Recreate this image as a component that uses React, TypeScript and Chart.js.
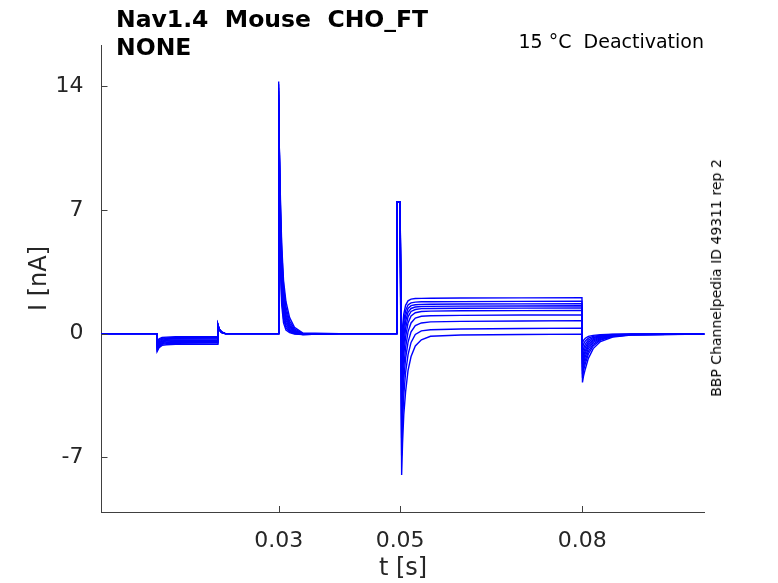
import { useEffect, useRef } from "react";
import { Chart, registerables } from "chart.js";

Chart.register(...registerables);

// sample times (s), shared by every sweep
const TIME = [
  0.00082, 0.00999, 0.01, 0.0103, 0.0108, 0.0115, 0.013, 0.0199,
  0.02, 0.0202, 0.0206, 0.0212, 0.0299,
  0.03, 0.03015, 0.0303, 0.0305, 0.0308, 0.0312, 0.0318, 0.0326, 0.034, 0.04,
  0.04945, 0.0495, 0.04998,
  0.05025, 0.0504, 0.0506, 0.0509, 0.0513, 0.0518, 0.0525, 0.0535, 0.055, 0.06, 0.07, 0.07995,
  0.08003, 0.0802, 0.0805, 0.081, 0.0818, 0.083, 0.085, 0.088, 0.1001,
];

// current (nA) per sweep
const SWEEP_1 = [0, 0, -0.45, -0.3, -0.22, -0.2, -0.18, -0.17, 0.42, 0.2, 0.06, 0, 0, 14.25, 7.0, 3.4, 1.6, 0.6, 0.2, 0.05, -0.03, -0.05, 0, 0, 7.45, 7.45, -0.5, 0.3, 1.1, 1.6, 1.85, 1.95, 1.98, 1.99, 2.0, 2.01, 2.02, 2.03, -2.76, -2.4, -2.0, -1.4, -0.85, -0.45, -0.2, -0.08, -0.03];
const SWEEP_2 = [0, 0, -0.52, -0.36, -0.27, -0.24, -0.22, -0.21, 0.44, 0.21, 0.06, 0, 0, 14.1, 7.6, 4.0, 2.0, 0.85, 0.32, 0.1, 0, -0.05, 0, 0, 7.45, 7.45, -1.1, -0.2, 0.7, 1.3, 1.62, 1.74, 1.78, 1.8, 1.8, 1.81, 1.82, 1.83, -2.5, -2.1, -1.7, -1.15, -0.7, -0.37, -0.17, -0.07, -0.03];
const SWEEP_3 = [0, 0, -0.58, -0.42, -0.32, -0.28, -0.26, -0.25, 0.45, 0.22, 0.07, 0, 0, 13.9, 8.1, 4.6, 2.4, 1.1, 0.45, 0.15, 0.02, -0.05, 0, 0, 7.45, 7.45, -1.8, -0.7, 0.3, 1.0, 1.42, 1.58, 1.63, 1.65, 1.66, 1.67, 1.68, 1.69, -2.3, -1.9, -1.5, -1.0, -0.6, -0.32, -0.15, -0.06, -0.03];
const SWEEP_4 = [0, 0, -0.64, -0.48, -0.37, -0.33, -0.31, -0.3, 0.46, 0.23, 0.07, 0, 0, 13.7, 8.5, 5.1, 2.8, 1.35, 0.6, 0.22, 0.05, -0.04, 0, 0, 7.45, 7.45, -2.5, -1.2, -0.2, 0.7, 1.2, 1.42, 1.5, 1.53, 1.54, 1.55, 1.56, 1.57, -2.1, -1.7, -1.3, -0.85, -0.5, -0.27, -0.13, -0.06, -0.03];
const SWEEP_5 = [0, 0, -0.7, -0.53, -0.42, -0.38, -0.36, -0.35, 0.47, 0.24, 0.08, 0, 0, 13.5, 8.8, 5.6, 3.2, 1.6, 0.75, 0.3, 0.08, -0.04, 0, 0, 7.45, 7.45, -3.2, -1.8, -0.7, 0.3, 0.95, 1.25, 1.36, 1.41, 1.42, 1.43, 1.44, 1.45, -1.9, -1.5, -1.1, -0.72, -0.42, -0.23, -0.11, -0.05, -0.02];
const SWEEP_6 = [0, 0, -0.76, -0.58, -0.46, -0.42, -0.4, -0.39, 0.48, 0.24, 0.08, 0, 0, 13.3, 9.0, 6.0, 3.6, 1.85, 0.9, 0.38, 0.12, -0.03, 0, 0, 7.45, 7.45, -4.0, -2.4, -1.2, -0.2, 0.6, 1.0, 1.18, 1.25, 1.27, 1.29, 1.3, 1.31, -1.7, -1.3, -0.95, -0.6, -0.35, -0.19, -0.1, -0.05, -0.02];
const SWEEP_7 = [0, 0, -0.82, -0.63, -0.51, -0.47, -0.45, -0.44, 0.49, 0.25, 0.08, 0, 0, 13.1, 9.2, 6.4, 4.0, 2.1, 1.05, 0.46, 0.16, -0.02, 0, 0, 7.45, 7.45, -4.9, -3.2, -1.9, -0.8, 0.1, 0.6, 0.88, 0.98, 1.01, 1.03, 1.05, 1.06, -1.45, -1.1, -0.78, -0.48, -0.28, -0.15, -0.08, -0.04, -0.02];
const SWEEP_8 = [0, 0, -0.88, -0.69, -0.56, -0.52, -0.5, -0.49, 0.5, 0.25, 0.09, 0, 0, 12.9, 9.4, 6.8, 4.4, 2.4, 1.25, 0.56, 0.2, -0.01, 0, 0, 7.45, 7.45, -5.9, -4.0, -2.6, -1.4, -0.5, 0.1, 0.45, 0.6, 0.66, 0.69, 0.71, 0.73, -1.15, -0.85, -0.6, -0.37, -0.22, -0.12, -0.07, -0.04, -0.02];
const SWEEP_9 = [0, 0, -0.94, -0.74, -0.61, -0.57, -0.55, -0.54, 0.5, 0.26, 0.09, 0, 0, 12.6, 9.6, 7.1, 4.7, 2.7, 1.5, 0.7, 0.27, 0, 0, 0, 7.45, 7.45, -6.9, -5.0, -3.5, -2.2, -1.2, -0.5, -0.05, 0.15, 0.22, 0.26, 0.29, 0.31, -0.85, -0.6, -0.42, -0.26, -0.16, -0.09, -0.05, -0.03, -0.02];
const SWEEP_10 = [0, 0, -1.0, -0.8, -0.67, -0.63, -0.61, -0.6, 0.5, 0.26, 0.1, 0, 0, 12.3, 9.8, 7.4, 5.0, 3.0, 1.8, 0.9, 0.35, 0.03, 0, 0, 7.45, 7.45, -8.0, -6.2, -4.6, -3.3, -2.1, -1.3, -0.7, -0.35, -0.15, -0.08, -0.05, -0.03, -0.55, -0.38, -0.26, -0.16, -0.1, -0.06, -0.04, -0.03, -0.02];

const SWEEPS = [SWEEP_1, SWEEP_2, SWEEP_3, SWEEP_4, SWEEP_5, SWEEP_6, SWEEP_7, SWEEP_8, SWEEP_9, SWEEP_10];

const X_TICKS = [0.03, 0.05, 0.08];
const X_TICK_LABELS = ["0.03", "0.05", "0.08"];
const Y_TICKS = [-7, 0, 7, 14];
const Y_TICK_LABELS = ["-7", "0", "7", "14"];

const FONT = "'DejaVu Sans', sans-serif";
const AXIS_COLOR = "#404040";
const TEXT_COLOR = "#262626";

// matlab-style ticks pointing into the plot
const innerTicks = {
  id: "innerTicks",
  afterDraw(chart: any) {
    const { ctx, chartArea, scales } = chart;
    ctx.save();
    ctx.strokeStyle = AXIS_COLOR;
    ctx.lineWidth = 1;
    ctx.beginPath();
    X_TICKS.forEach((v) => {
      const x = Math.round(scales.x.getPixelForValue(v)) + 0.5;
      ctx.moveTo(x, chartArea.bottom);
      ctx.lineTo(x, chartArea.bottom - 6);
    });
    Y_TICKS.forEach((v) => {
      const y = Math.round(scales.y.getPixelForValue(v)) + 0.5;
      ctx.moveTo(chartArea.left, y);
      ctx.lineTo(chartArea.left + 6, y);
    });
    ctx.stroke();
    ctx.restore();
  },
};

const TraceChart = () => {
  const canvasRef = useRef<HTMLCanvasElement>(null);

  useEffect(() => {
    if (!canvasRef.current) return;
    const chart = new Chart(canvasRef.current, {
      type: "line",
      data: {
        datasets: SWEEPS.map((sweep) => ({
          data: TIME.map((t, i) => ({ x: t, y: sweep[i] })),
          borderColor: "#0000ff",
          borderWidth: 1.4,
          pointRadius: 0,
          fill: false,
          tension: 0,
        })),
      },
      options: {
        responsive: false,
        animation: false,
        events: [],
        layout: { padding: { top: 45, right: 73.3, bottom: 0, left: 0 } },
        plugins: {
          legend: { display: false },
          tooltip: { enabled: false },
        },
        scales: {
          x: {
            type: "linear",
            min: 0.00082,
            max: 0.10016,
            afterBuildTicks: (s: any) => {
              s.ticks = X_TICKS.map((value) => ({ value }));
            },
            afterFit: (s: any) => {
              s.height = 71;
            },
            ticks: {
              autoSkip: false,
              maxRotation: 0,
              padding: 16,
              color: TEXT_COLOR,
              font: { family: FONT, size: 22 },
              callback: (v: any) => X_TICK_LABELS[X_TICKS.indexOf(v)],
            },
            grid: { display: false, drawTicks: false },
            border: { display: true, color: AXIS_COLOR, width: 1 },
            title: {
              display: true,
              text: "t [s]",
              color: TEXT_COLOR,
              font: { family: FONT, size: 24 },
              padding: { top: 0, bottom: 0 },
            },
          },
          y: {
            type: "linear",
            min: -10.09,
            max: 16.32,
            afterBuildTicks: (s: any) => {
              s.ticks = Y_TICKS.map((value) => ({ value }));
            },
            afterFit: (s: any) => {
              s.width = 101.5;
            },
            ticks: {
              autoSkip: false,
              padding: 18,
              color: TEXT_COLOR,
              font: { family: FONT, size: 22 },
              callback: (v: any) => Y_TICK_LABELS[Y_TICKS.indexOf(v)],
            },
            grid: { display: false, drawTicks: false },
            border: { display: true, color: AXIS_COLOR, width: 1 },
            title: {
              display: true,
              text: "I [nA]",
              color: TEXT_COLOR,
              font: { family: FONT, size: 24 },
              padding: { top: 25, bottom: 0 },
            },
          },
        },
      },
      plugins: [innerTicks],
    });
    return () => chart.destroy();
  }, []);

  return <canvas ref={canvasRef} width={778} height={583}></canvas>;
};

export default function App() {
  return (
    <div style={{ position: "absolute", left: 0, top: 0, width: 778, height: 583, background: "#fff", overflow: "hidden", fontFamily: FONT }}>
      <TraceChart />
      <div style={{ position: "absolute", left: 116, top: 5, fontSize: 23.5, fontWeight: "bold", lineHeight: "28px", color: "#000", whiteSpace: "pre" }}>
        {"Nav1.4  Mouse  CHO_FT\nNONE"}
      </div>
      <div style={{ position: "absolute", right: 74, top: 30, fontSize: 19, lineHeight: "22px", color: "#000", whiteSpace: "pre" }}>
        {"15 °C  Deactivation"}
      </div>
      <div style={{ position: "absolute", left: 716, top: 278, fontSize: 14, lineHeight: 1, color: "#000", whiteSpace: "nowrap", transform: "translate(-50%, -50%) rotate(-90deg)" }}>
        BBP Channelpedia ID 49311 rep 2
      </div>
    </div>
  );
}
